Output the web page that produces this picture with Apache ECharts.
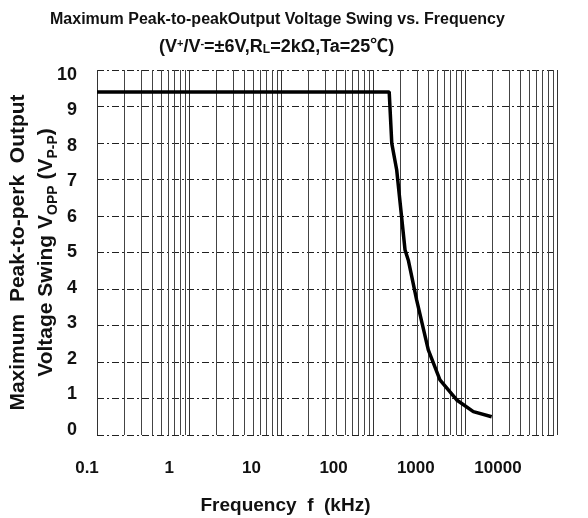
<!DOCTYPE html>
<html><head><meta charset="utf-8">
<script src="https://cdn.jsdelivr.net/npm/echarts@6/dist/echarts.min.js"></script>
<style>html,body{margin:0;padding:0;background:#fff}#c{width:588px;height:518px}</style>
</head><body><div id="c"></div>
<script>
// Frequency (kHz) and max peak-to-peak output voltage swing (V)
const freq = [0.1, 150, 160, 181, 223, 242, 298, 399, 534, 813, 1232, 1950];
const vopp = [9.4, 9.4, 7.99, 7.26, 5.07, 4.79, 3.70, 2.33, 1.51, 0.96, 0.64, 0.50];
const decades = [0.1, 1, 10, 100, 1000];
const minorSteps = [2, 3, 4, 5, 6, 7, 8, 9];
const yTicks = [0, 1, 2, 3, 4, 5, 6, 7, 8, 9, 10];
const xTickLabels = ['0.1', '1', '10', '100', '1000', '10000'];

const FONT = '"Liberation Sans", Arial, "Noto Sans CJK JP", sans-serif';
const minorGrid = [];
decades.forEach(d => minorSteps.forEach(k => minorGrid.push({ xAxis: +(d * k).toPrecision(3) })));

function xLabel(v) {
  const e = Math.round(Math.log10(v));
  return xTickLabels[e + 1] || '';
}

const chart = echarts.init(document.getElementById('c'), null, { renderer: 'canvas' });
chart.setOption({
  animation: false,
  backgroundColor: '#fff',
  title: [
    { text: 'Maximum Peak-to-peakOutput Voltage Swing vs. Frequency', left: 45, top: 7,
      textStyle: { fontFamily: FONT, fontSize: 16, fontWeight: 'bold', color: '#111' } },
    { text: '(V{sup|+}/V{sup|-}=±6V,R{sub|L}=2kΩ,Ta=25℃)', left: 154, top: 33,
      textStyle: { fontFamily: FONT, fontSize: 18, fontWeight: 'bold', color: '#111',
        rich: { sup: { fontSize: 11, fontWeight: 'bold', fontFamily: FONT, color: '#111', verticalAlign: 'top' },
                sub: { fontSize: 12, fontWeight: 'bold', fontFamily: FONT, color: '#111', verticalAlign: 'bottom' } } } }
  ],
  grid: [
    { left: 97, right: 31, top: 70, bottom: 83, outerBoundsMode: 'none', containLabel: false },
    { left: 87, right: 90, top: 75, bottom: 88, outerBoundsMode: 'none', containLabel: false }
  ],
  xAxis: [
    { gridIndex: 0, type: 'log', logBase: 10, min: 0.1, max: 10000,
      axisLine: { show: false }, axisTick: { show: false }, axisLabel: { show: false },
      splitLine: { show: true, lineStyle: { color: '#333', width: 1 } } },
    { gridIndex: 1, type: 'log', logBase: 10, min: 0.1, max: 10000,
      axisLine: { show: false }, axisTick: { show: false }, splitLine: { show: false },
      axisLabel: { fontFamily: FONT, fontSize: 17, fontWeight: 'bold', color: '#111', margin: 30, formatter: xLabel },
      name: 'Frequency  f  (kHz)', nameLocation: 'middle', nameGap: 66, nameMoveOverlap: false,
      nameTextStyle: { fontFamily: FONT, fontSize: 19, fontWeight: 'bold', color: '#111', padding: [0, 14, 0, 0] } }
  ],
  yAxis: [
    { gridIndex: 0, type: 'value', min: 0, max: 10, interval: 1,
      axisLine: { show: false }, axisTick: { show: false }, axisLabel: { show: false },
      splitLine: { show: true, lineStyle: { color: '#222', width: 1, type: [7, 3, 2, 3] } } },
    { gridIndex: 1, type: 'value', min: 0, max: 10, interval: 1,
      axisLine: { show: false }, axisTick: { show: false }, splitLine: { show: false },
      axisLabel: { fontFamily: FONT, fontSize: 18, fontWeight: 'bold', color: '#111', margin: 10,
        formatter: v => yTicks.includes(v) ? String(v) : '' },
      name: 'Maximum  Peak-to-perk  Output\nVoltage Swing V{sub|OPP} (V{sub|P-P})',
      nameLocation: 'middle', nameGap: 27, nameRotate: 90, nameMoveOverlap: false,
      nameTextStyle: { fontFamily: FONT, fontSize: 21, fontWeight: 'bold', color: '#111', lineHeight: 28,
        rich: { sub: { fontFamily: FONT, fontSize: 14, fontWeight: 'bold', color: '#111', verticalAlign: 'bottom', lineHeight: 28 } } } }
  ],
  series: [
    { type: 'line', xAxisIndex: 0, yAxisIndex: 0, data: [], silent: true,
      markLine: { silent: true, symbol: 'none', label: { show: false },
        lineStyle: { color: '#444', width: 1, type: 'solid' }, data: minorGrid } },
    { type: 'line', xAxisIndex: 0, yAxisIndex: 0, showSymbol: false, silent: true,
      data: freq.map((f, i) => [f, vopp[i]]),
      lineStyle: { color: '#000', width: 3.5 }, z: 5 }
  ]
});
</script>
</body></html>
